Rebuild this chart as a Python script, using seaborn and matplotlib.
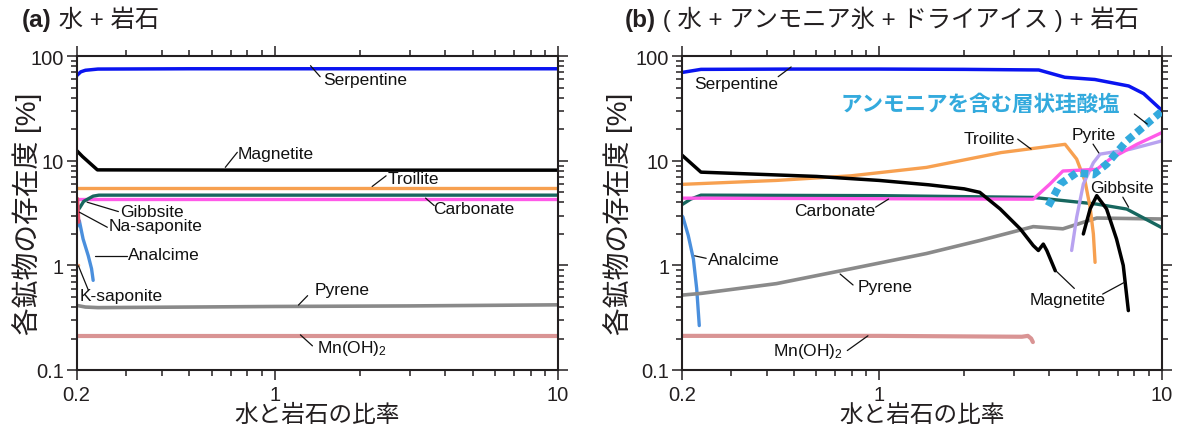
import numpy as np
import pandas as pd
import matplotlib
matplotlib.use("Agg")
import matplotlib.pyplot as plt
import seaborn as sns
from matplotlib.ticker import FixedLocator, LogLocator, NullFormatter, FixedFormatter

# ---------------- data: panel (a) water + rock ----------------
a_serp_x = [0.2, 0.207, 0.215, 0.238, 0.5, 1.0, 3.0, 10.0]
a_serp_y = [65, 71, 73.5, 75.5, 76, 76, 76, 76]
a_mag_x = [0.2, 0.21, 0.237, 1.0, 10.0]
a_mag_y = [12.6, 11.0, 8.2, 8.15, 8.15]
a_troi_x = [0.2, 10.0]
a_troi_y = [5.5, 5.5]
a_gibb_x = [0.2045, 0.212, 0.229, 0.24, 10.0]
a_gibb_y = [3.5, 4.1, 4.6, 4.7, 4.7]
a_carb_x = [0.2, 10.0]
a_carb_y = [4.36, 4.36]
a_nasap_x = [0.2015, 0.2025, 0.2035]
a_nasap_y = [4.35, 3.4, 2.6]
a_anal_x = [0.2, 0.2046, 0.211, 0.220, 0.226, 0.229]
a_anal_y = [2.3, 2.68, 1.79, 1.24, 0.93, 0.72]
a_ksap_x = [0.2, 0.2035]
a_ksap_y = [0.99, 1.0]
a_pyr_x = [0.2, 0.215, 0.238, 0.5, 1.0, 3.0, 10.0]
a_pyr_y = [0.415, 0.40, 0.395, 0.40, 0.405, 0.41, 0.42]
a_mn_x = [0.2, 10.0]
a_mn_y = [0.212, 0.212]

# ---------------- data: panel (b) (water + NH3 ice + CO2 ice) + rock ----------------
b_serp_x = [0.2, 0.234, 0.5, 1.0, 2.0, 3.67, 4.54, 5.8, 7.64, 8.63, 10.0]
b_serp_y = [70, 75, 75.5, 75.5, 75, 74, 63, 60, 52, 44, 30.5]
b_mag_x = [0.2, 0.234, 0.6, 1.0, 1.5, 2.0, 2.27, 2.68, 3.16, 3.51, 3.66, 3.81, 3.92, 4.2]
b_mag_y = [11.4, 7.8, 7.1, 6.5, 5.9, 5.4, 5.0, 3.47, 2.23, 1.55, 1.39, 1.6, 1.39, 0.89]
b_mag2_x = [5.28, 5.58, 5.89, 6.38, 6.92, 7.31, 7.62]
b_mag2_y = [2.0, 3.47, 4.65, 3.47, 1.79, 1.0, 0.37]
b_troi_x = [0.2, 0.433, 0.796, 1.47, 2.7, 4.55, 5.0, 5.35, 5.58, 5.73, 5.81]
b_troi_y = [5.96, 6.5, 7.2, 8.66, 12.0, 14.4, 10.4, 6.45, 3.6, 2.0, 1.07]
b_gibb_x = [0.2, 0.215, 0.234, 1.0, 3.51, 5.89, 7.52, 10.0]
b_gibb_y = [3.8, 4.3, 4.7, 4.65, 4.47, 3.86, 3.46, 2.3]
b_carb_x = [0.2, 3.51, 4.02, 4.47, 5.89, 6.56, 8.17, 10.0]
b_carb_y = [4.4, 4.3, 6.0, 8.0, 8.3, 10.4, 14.4, 18.6]
b_pyrite_x = [4.80, 5.0, 5.28, 5.73, 6.05, 7.72, 10.0]
b_pyrite_y = [1.39, 2.88, 6.0, 9.6, 11.6, 12.9, 15.5]
b_nh4_x = [3.97, 4.37, 5.0, 5.73, 6.38, 7.52, 8.83, 10.0]
b_nh4_y = [3.7, 6.0, 7.7, 7.4, 9.3, 15.5, 22.4, 29.8]
b_pyr_x = [0.2, 0.234, 0.433, 0.796, 1.47, 2.27, 3.51, 4.47, 5.89, 10.0]
b_pyr_y = [0.52, 0.54, 0.67, 0.93, 1.3, 1.73, 2.35, 2.24, 2.84, 2.78]
b_anal_x = [0.2, 0.202, 0.211, 0.220, 0.226, 0.2308]
b_anal_y = [3.0, 2.9, 1.93, 1.15, 0.60, 0.266]
b_mn_x = [0.2, 1.0, 3.2, 3.36, 3.45, 3.5]
b_mn_y = [0.212, 0.212, 0.208, 0.212, 0.2, 0.185]

x_ticks = [0.2, 1, 10]
x_ticklabels = ["0.2", "1", "10"]
y_ticks = [0.1, 1, 10, 100]
y_ticklabels = ["0.1", "1", "10", "100"]

title_a = ("(a)", " 水 + 岩石")
title_b = ("(b)", " ( 水 + アンモニア氷 + ドライアイス ) + 岩石")
xlabel = "水と岩石の比率"
ylabel = "各鉱物の存在度 [%]"
nh4_label = "アンモニアを含む層状珪酸塩"

# ---------------- styling ----------------
C = {
    "Serpentine": "#0a14f0",
    "Magnetite": "#000000",
    "Troilite": "#f7a050",
    "Gibbsite": "#17675f",
    "Carbonate": "#ff5ae8",
    "Na-saponite": "#e8506e",
    "Analcime": "#4a8fdd",
    "K-saponite": "#f4a070",
    "Pyrene": "#8a8a8a",
    "Mn": "#d99494",
    "Pyrite": "#b8a2f0",
    "NH4": "#33aadd",
}

sns.set_theme(style="ticks")
plt.rcParams["font.family"] = ["Liberation Sans", "Noto Sans CJK JP"]
plt.rcParams["mathtext.fontset"] = "custom"
plt.rcParams["mathtext.rm"] = "Liberation Sans"
plt.rcParams["mathtext.it"] = "Liberation Sans:italic"

fig = plt.figure(figsize=(11.77, 4.35), dpi=100)
W, H = 1177, 435
ax_a = fig.add_axes([76.5 / W, (H - 371) / H, 481.5 / W, 313.7 / H])
ax_b = fig.add_axes([681.7 / W, (H - 371) / H, 480 / W, 313.7 / H])

def draw(ax, x, y, color, lw=2.2, ls="-", z=2, cap="round"):
    df = pd.DataFrame({"x": x, "y": y})
    sns.lineplot(data=df, x="x", y="y", ax=ax, color=color, lw=lw, linestyle=ls,
                 estimator=None, sort=False, zorder=z, solid_capstyle=cap,
                 dash_capstyle="butt")

# panel a
draw(ax_a, a_mn_x, a_mn_y, C["Mn"], lw=3.0)
draw(ax_a, a_pyr_x, a_pyr_y, C["Pyrene"], lw=2.6)
draw(ax_a, a_ksap_x, a_ksap_y, C["K-saponite"], lw=2.4)
draw(ax_a, a_troi_x, a_troi_y, C["Troilite"], lw=2.4)
draw(ax_a, a_carb_x, a_carb_y, C["Carbonate"], lw=2.4)
draw(ax_a, a_gibb_x, a_gibb_y, C["Gibbsite"], lw=2.4)
draw(ax_a, a_anal_x, a_anal_y, C["Analcime"], lw=2.4)
draw(ax_a, a_nasap_x, a_nasap_y, C["Na-saponite"], lw=2.6)
draw(ax_a, a_mag_x, a_mag_y, C["Magnetite"], lw=2.5)
draw(ax_a, a_serp_x, a_serp_y, C["Serpentine"], lw=2.5)

# panel b
draw(ax_b, b_mn_x, b_mn_y, C["Mn"], lw=3.0)
draw(ax_b, b_anal_x, b_anal_y, C["Analcime"], lw=2.4)
draw(ax_b, b_pyr_x, b_pyr_y, C["Pyrene"], lw=2.6)
draw(ax_b, b_gibb_x, b_gibb_y, C["Gibbsite"], lw=2.4)
draw(ax_b, b_troi_x, b_troi_y, C["Troilite"], lw=2.4)
draw(ax_b, b_pyrite_x, b_pyrite_y, C["Pyrite"], lw=2.4)
draw(ax_b, b_carb_x, b_carb_y, C["Carbonate"], lw=2.4)
draw(ax_b, b_mag_x, b_mag_y, C["Magnetite"], lw=2.5)
draw(ax_b, b_mag2_x, b_mag2_y, C["Magnetite"], lw=2.5)
draw(ax_b, b_nh4_x, b_nh4_y, C["NH4"], lw=5.5, ls=(0, (1.0, 0.6)), z=3)
draw(ax_b, b_serp_x, b_serp_y, C["Serpentine"], lw=2.5)

spine_col = "#231f20"
for ax in (ax_a, ax_b):
    ax.set_xscale("log")
    ax.set_yscale("log")
    ax.set_xlim(0.2, 10)
    ax.set_ylim(0.1, 100)
    ax.xaxis.set_major_locator(FixedLocator(x_ticks))
    ax.xaxis.set_major_formatter(FixedFormatter(x_ticklabels))
    ax.xaxis.set_minor_locator(LogLocator(base=10, subs=np.arange(2, 10), numticks=20))
    ax.xaxis.set_minor_formatter(NullFormatter())
    ax.yaxis.set_major_locator(FixedLocator(y_ticks))
    ax.yaxis.set_major_formatter(FixedFormatter(y_ticklabels))
    ax.yaxis.set_minor_locator(LogLocator(base=10, subs=np.arange(2, 10), numticks=20))
    ax.yaxis.set_minor_formatter(NullFormatter())
    for s in ax.spines.values():
        s.set_visible(True)
        s.set_linewidth(1.5)
        s.set_color(spine_col)
    ax.tick_params(which="both", direction="out", top=True, right=True,
                   color=spine_col, width=1.1, labelsize=14.5, labelcolor="#231f20")
    ax.tick_params(which="major", length=7, pad=2)
    ax.tick_params(axis="x", which="major", pad=4)
    ax.tick_params(which="minor", length=4)
    ax.set_xlabel(xlabel, fontsize=17, color="#231f20")
    ax.set_ylabel(ylabel, fontsize=20, color="#231f20")
    ax.xaxis.set_label_coords(0.5, -0.108)
    ax.set_facecolor("white")

ax_a.yaxis.set_label_coords(-0.072, 0.5)
ax_b.yaxis.set_label_coords(-0.101, 0.5)

def titled(x, parts):
    t1 = fig.text(x, (H - 27) / H, parts[0], fontsize=17.5, fontweight="bold",
                  color="#231f20", ha="left", va="baseline")
    fig.canvas.draw()
    bb = t1.get_window_extent()
    fig.text(bb.x1 / fig.bbox.width, (H - 27) / H, parts[1], fontsize=17.5,
             color="#231f20", ha="left", va="baseline")

titled(22 / W, title_a)
titled(625 / W, title_b)

def lab(ax, text, txy, p0, p1, color="#111111", size=12.5, weight="normal", ha="center"):
    ax.plot([p0[0], p1[0]], [p0[1], p1[1]], transform=ax.transAxes, color="#111111",
            lw=0.9, clip_on=False, zorder=5)
    ax.text(txy[0], txy[1], text, transform=ax.transAxes, fontsize=size, color=color,
            fontweight=weight, ha=ha, va="center", zorder=6)

# labels panel a
lab(ax_a, "Serpentine", (0.60, 0.925), (0.486, 0.970), (0.506, 0.935))
lab(ax_a, "Magnetite", (0.414, 0.689), (0.309, 0.646), (0.334, 0.694))
lab(ax_a, "Troilite", (0.70, 0.612), (0.614, 0.585), (0.643, 0.619))
lab(ax_a, "Carbonate", (0.826, 0.515), (0.725, 0.548), (0.743, 0.524))
lab(ax_a, "Gibbsite", (0.09, 0.505), (0.022, 0.535), (0.087, 0.505), ha="left")
lab(ax_a, "Na-saponite", (0.067, 0.46), (0.006, 0.503), (0.064, 0.455), ha="left")
lab(ax_a, "Analcime", (0.107, 0.367), (0.038, 0.364), (0.104, 0.364), ha="left")
lab(ax_a, "K-saponite", (0.006, 0.236), (0.004, 0.332), (0.025, 0.253), ha="left")
lab(ax_a, "Pyrene", (0.551, 0.256), (0.461, 0.207), (0.48, 0.237))
lab(ax_a, "Mn(OH)$_2$", (0.572, 0.072), (0.465, 0.112), (0.49, 0.077))

# labels panel b
lab(ax_b, "Serpentine", (0.113, 0.912), (0.201, 0.935), (0.228, 0.966))
lab(ax_b, nh4_label, (0.623, 0.845), (0.943, 0.816), (0.970, 0.784),
    color=C["NH4"], size=15.5, weight="bold")
lab(ax_b, "Troilite", (0.64, 0.739), (0.70, 0.736), (0.728, 0.704))
lab(ax_b, "Pyrite", (0.859, 0.752), (0.857, 0.72), (0.869, 0.692))
lab(ax_b, "Gibbsite", (0.917, 0.582), (0.919, 0.551), (0.931, 0.519))
lab(ax_b, "Carbonate", (0.318, 0.508), (0.404, 0.519), (0.431, 0.545))
lab(ax_b, "Analcime", (0.129, 0.351), (0.027, 0.364), (0.051, 0.356))
lab(ax_b, "Pyrene", (0.423, 0.266), (0.33, 0.306), (0.357, 0.271))
lab(ax_b, "Magnetite", (0.805, 0.226), (0.779, 0.317), (0.818, 0.260))
ax_b.plot([0.877, 0.923], [0.242, 0.28], transform=ax_b.transAxes, color="#111111",
          lw=0.9, zorder=5)
lab(ax_b, "Mn(OH)$_2$", (0.264, 0.062), (0.345, 0.062), (0.388, 0.109))

fig.savefig("out.png", dpi=100, facecolor="white")
